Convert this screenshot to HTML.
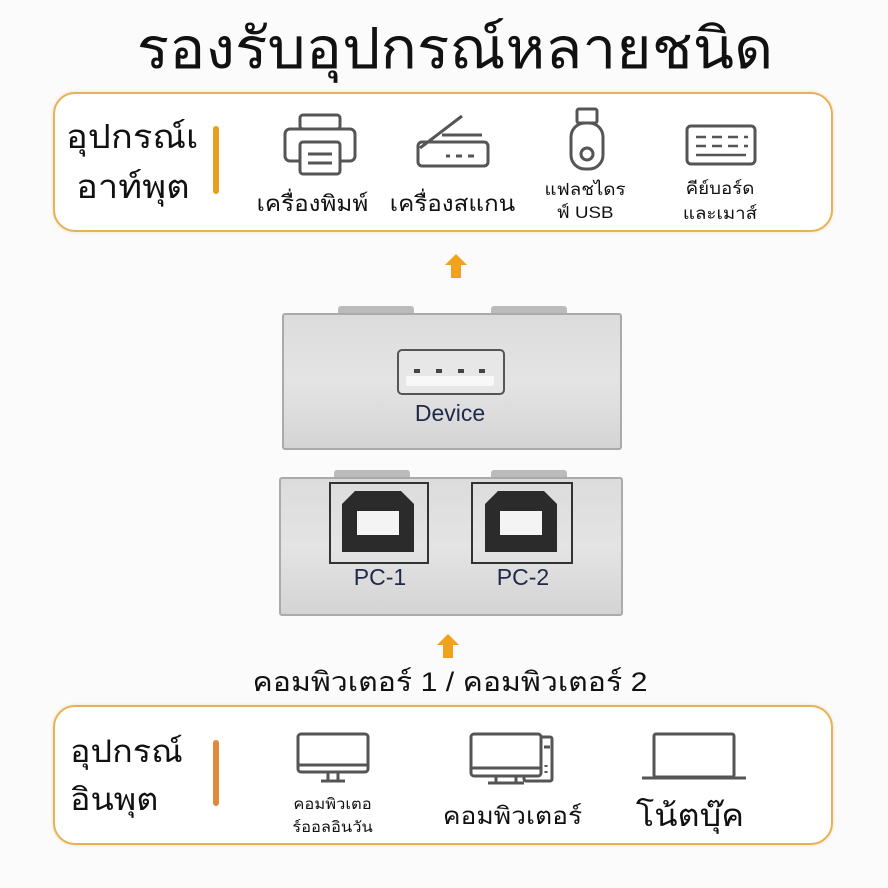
<!DOCTYPE html>
<html><head><meta charset="utf-8"><style>
body{margin:0;width:888px;height:888px;background:#fbfbfb;position:relative;overflow:hidden;font-family:"Liberation Sans","Noto Sans CJK SC",sans-serif;color:#111}
.a{position:absolute}
.box{position:absolute;left:53px;width:776px;border:2px solid #e6b257;border-radius:22px;background:#fff;box-shadow:0 0 3px rgba(230,178,87,.4)}
.t{position:absolute;text-align:center;white-space:nowrap}
.w{transform:scaleX(1.1)}
.bar{position:absolute;width:6px;border-radius:3px;background:#e5a020}
</style></head><body>
<div class="t" style="left:0;width:910px;top:12px;font-size:57px;line-height:74px;transform:scaleX(1.06)">รองรับอุปกรณ์หลายชนิด</div>

<div class="box" style="top:92px;height:136px"></div>
<div class="a" style="left:66px;top:112px;font-size:33px;line-height:50px;transform:scaleX(1.1);transform-origin:left">อุปกรณ์เ<br>&nbsp;อาท์พุต</div>
<div class="bar" style="left:213px;top:126px;height:68px"></div>
<svg class="a" style="left:280px;top:112px" width="80" height="66" viewBox="0 0 80 66" fill="none" stroke="#555" stroke-width="3"><rect x="20" y="3" width="40" height="14" rx="3"/><rect x="5" y="17" width="70" height="32" rx="5"/><rect x="20" y="30" width="40" height="32" rx="3" fill="#fff"/><line x1="28" y1="42" x2="52" y2="42"/><line x1="28" y1="51" x2="52" y2="51"/></svg>
<div class="t w" style="left:245px;width:135px;top:186px;font-size:22px">เครื่องพิมพ์</div>
<svg class="a" style="left:412px;top:110px" width="82" height="62" viewBox="0 0 82 62" fill="none" stroke="#555" stroke-width="3"><path d="M50 6 L8 38"/><line x1="30" y1="25" x2="70" y2="25"/><rect x="6" y="32" width="70" height="24" rx="4"/><line x1="34" y1="46" x2="38" y2="46"/><line x1="44" y1="46" x2="50" y2="46"/><line x1="56" y1="46" x2="62" y2="46"/></svg>
<div class="t w" style="left:385px;width:135px;top:186px;font-size:22px">เครื่องสแกน</div>
<svg class="a" style="left:565px;top:106px" width="44" height="66" viewBox="0 0 44 66" fill="none" stroke="#555" stroke-width="3"><rect x="12" y="3" width="20" height="14" rx="2"/><rect x="6" y="17" width="32" height="46" rx="14"/><circle cx="22" cy="48" r="6"/></svg>
<div class="t w" style="left:530px;width:110px;top:178px;font-size:17px;line-height:23px">แฟลชไดร<br>ฟ์ USB</div>
<svg class="a" style="left:684px;top:122px" width="74" height="46" viewBox="0 0 74 46" fill="none" stroke="#555" stroke-width="3"><rect x="3" y="4" width="68" height="38" rx="4"/><path d="M12 15h10M28 15h10M44 15h10M60 15h4M12 24h10M28 24h10M44 24h10M60 24h4M12 33h50" stroke-width="2.5"/></svg>
<div class="t w" style="left:665px;width:110px;top:176px;font-size:17px;line-height:25px">คีย์บอร์ด<br>และเมาส์</div>

<svg class="a" style="left:443px;top:253px" width="26" height="26"><polygon points="13,1 24,12 18,12 18,25 8,25 8,12 2,12" fill="#f0a21a"/></svg>

<div class="a" style="left:338px;top:306px;width:76px;height:8px;background:#bbb;border-radius:3px 3px 0 0"></div>
<div class="a" style="left:491px;top:306px;width:76px;height:8px;background:#bbb;border-radius:3px 3px 0 0"></div>
<div class="a" style="left:282px;top:313px;width:336px;height:133px;background:linear-gradient(#dcdcdc,#e4e4e4 50%,#d4d4d4);border:2px solid #aaa;border-radius:3px"></div>
<div class="a" style="left:397px;top:349px;width:104px;height:42px;background:#e7e7e7;border:2px solid #555;border-radius:5px"></div>
<div class="a" style="left:406px;top:376px;width:88px;height:10px;background:#f8f8f8;border-radius:2px"></div>
<div class="a" style="left:414px;top:369px;width:6px;height:4px;background:#444"></div>
<div class="a" style="left:436px;top:369px;width:6px;height:4px;background:#444"></div>
<div class="a" style="left:458px;top:369px;width:6px;height:4px;background:#444"></div>
<div class="a" style="left:479px;top:369px;width:6px;height:4px;background:#444"></div>
<div class="t" style="left:380px;width:140px;top:400px;font-size:23px;color:#1f2a4a">Device</div>

<div class="a" style="left:334px;top:470px;width:76px;height:8px;background:#bbb;border-radius:3px 3px 0 0"></div>
<div class="a" style="left:491px;top:470px;width:76px;height:8px;background:#bbb;border-radius:3px 3px 0 0"></div>
<div class="a" style="left:279px;top:477px;width:340px;height:135px;background:linear-gradient(#dcdcdc,#e4e4e4 50%,#d4d4d4);border:2px solid #aaa;border-radius:3px"></div>
<div class="a" style="left:329px;top:482px;width:96px;height:78px;border:2px solid #333"></div>
<div class="a" style="left:471px;top:482px;width:98px;height:78px;border:2px solid #333"></div>
<svg class="a" style="left:341px;top:491px" width="74" height="62"><polygon points="14,0 60,0 73,13 73,61 1,61 1,13" fill="#2b2b2b"/><rect x="16" y="20" width="42" height="24" fill="#f4f4f4"/></svg>
<svg class="a" style="left:484px;top:491px" width="74" height="62"><polygon points="14,0 60,0 73,13 73,61 1,61 1,13" fill="#2b2b2b"/><rect x="16" y="20" width="42" height="24" fill="#f4f4f4"/></svg>
<div class="t" style="left:320px;width:120px;top:564px;font-size:23px;color:#1f2a4a">PC-1</div>
<div class="t" style="left:463px;width:120px;top:564px;font-size:23px;color:#1f2a4a">PC-2</div>

<svg class="a" style="left:435px;top:633px" width="26" height="26"><polygon points="13,1 24,12 18,12 18,25 8,25 8,12 2,12" fill="#f0a21a"/></svg>
<div class="t" style="left:0;width:900px;top:664px;font-size:27px;line-height:36px;transform:scaleX(1.12)">คอมพิวเตอร์ 1 / คอมพิวเตอร์ 2</div>

<div class="box" style="top:705px;height:136px"></div>
<div class="a" style="left:70px;top:728px;font-size:31px;line-height:48px;transform:scaleX(1.1);transform-origin:left">อุปกรณ์<br>อินพุต</div>
<div class="bar" style="left:213px;top:740px;height:66px;background:#e08a3a"></div>
<svg class="a" style="left:295px;top:731px" width="76" height="54" viewBox="0 0 76 54" fill="none" stroke="#555" stroke-width="3"><rect x="3" y="3" width="70" height="38" rx="3"/><line x1="3" y1="34" x2="73" y2="34"/><path d="M33 41v8M43 41v8M26 50h24"/></svg>
<div class="t w" style="left:270px;width:125px;top:793px;font-size:15px;line-height:23px">คอมพิวเตอ<br>ร์ออลอินวัน</div>
<svg class="a" style="left:468px;top:731px" width="90" height="56" viewBox="0 0 90 56" fill="none" stroke="#555" stroke-width="3"><rect x="56" y="6" width="28" height="44" rx="2"/><rect x="3" y="3" width="70" height="42" rx="3" fill="#fff"/><line x1="3" y1="37" x2="73" y2="37"/><path d="M28 45v6M48 45v6M20 52h36"/><path d="M76 16h6M78 34v2M78 40v2"/></svg>
<div class="t w" style="left:440px;width:145px;top:796px;font-size:24px">คอมพิวเตอร์</div>
<svg class="a" style="left:640px;top:731px" width="108" height="52" viewBox="0 0 108 52" fill="none" stroke="#555" stroke-width="3"><rect x="14" y="3" width="80" height="43" rx="2"/><line x1="2" y1="47" x2="106" y2="47"/></svg>
<div class="t w" style="left:625px;width:130px;top:790px;font-size:31px">โน้ตบุ๊ค</div>
</body></html>
